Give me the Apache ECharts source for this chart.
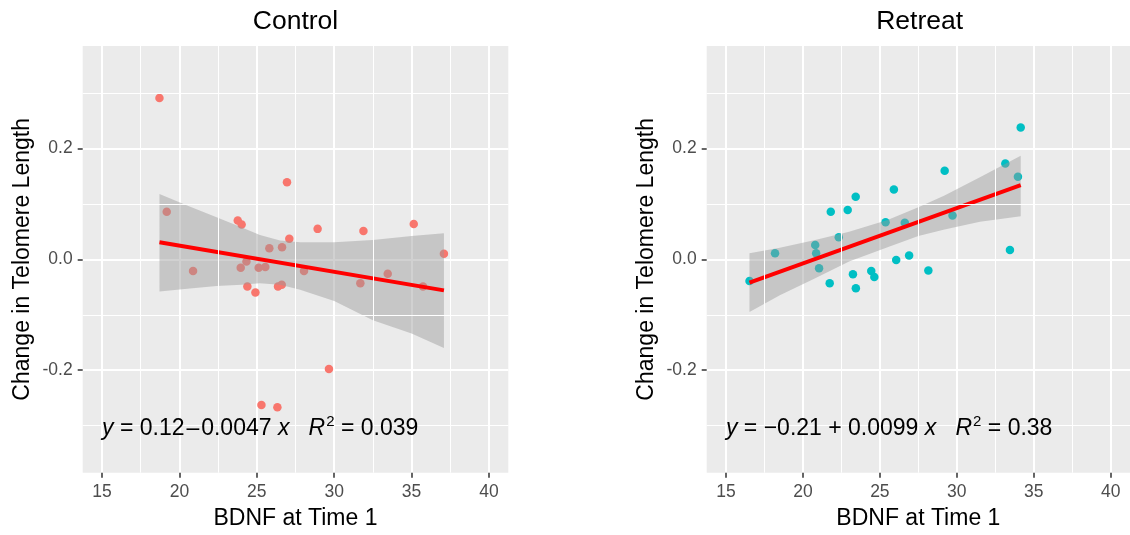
<!DOCTYPE html>
<html>
<head>
<meta charset="utf-8">
<script src="https://cdn.jsdelivr.net/npm/echarts@6/dist/echarts.min.js"></script>
<style>
  html, body { margin: 0; padding: 0; background: #fff; }
  #main { width: 1130px; height: 535px; }
</style>
</head>
<body>
<div id="main"></div>
<script>
// control group: BDNF at time 1 vs change in telomere length
const controlBdnf = [18.71, 19.18, 23.77, 24.02, 26.95, 27.10, 28.93, 31.89, 35.14, 25.81, 26.63, 37.09, 20.88, 23.96,
  24.33, 25.12, 25.55, 28.05, 33.46, 31.69, 35.74, 24.39, 24.91, 26.37, 26.61, 29.66, 25.30, 26.33];
const controlChange = [0.291, 0.086, 0.070, 0.063, 0.139, 0.037, 0.055, 0.051, 0.064, 0.020, 0.022, 0.010, -0.021, -0.015,
  -0.004, -0.015, -0.014, -0.021, -0.026, -0.043, -0.049, -0.049, -0.060, -0.049, -0.046, -0.198, -0.263, -0.267];

// retreat group
const retreatBdnf = [34.15, 33.15, 33.97, 29.21, 25.91, 23.43, 22.91, 21.81, 29.72, 25.37, 26.62, 22.33, 20.80, 18.19,
  20.86, 33.45, 26.06, 26.90, 21.05, 16.53, 21.74, 23.25, 24.44, 24.64, 28.15, 23.44];
const retreatChange = [0.238, 0.173, 0.149, 0.160, 0.126, 0.113, 0.089, 0.086, 0.079, 0.067, 0.066, 0.040, 0.026, 0.011,
  0.011, 0.017, -0.001, 0.007, -0.016, -0.039, -0.043, -0.027, -0.021, -0.032, -0.020, -0.052];

// fitted lines (end points) and confidence bands
const controlFitX = [18.71, 37.09];
const controlFitY = [0.031, -0.056];
const controlBandX = [18.71, 20.5, 22.4, 24.0, 25.2, 26.5, 27.8, 30.0, 32.5, 35.0, 37.09];
const controlBandHi = [0.118, 0.097, 0.076, 0.058, 0.044, 0.034, 0.031, 0.031, 0.035, 0.042, 0.047];
const controlBandLo = [-0.058, -0.053, -0.048, -0.046, -0.043, -0.046, -0.055, -0.075, -0.110, -0.134, -0.160];

const retreatFitX = [16.53, 34.15];
const retreatFitY = [-0.042, 0.134];
const retreatBandX = [16.53, 18.5, 20.8, 23.0, 25.5, 27.5, 29.2, 31.5, 34.15];
const retreatBandHi = [0.011, 0.021, 0.035, 0.050, 0.071, 0.094, 0.115, 0.148, 0.187];
const retreatBandLo = [-0.095, -0.065, -0.034, -0.004, 0.022, 0.042, 0.054, 0.068, 0.078];

// axes
const xTicks = [15, 20, 25, 30, 35, 40];
const xMinor = [17.5, 22.5, 27.5, 32.5, 37.5];
const yTicks = [-0.2, 0, 0.2];
const yMinor = [-0.3, -0.1, 0.1, 0.3];

// regression labels
const controlEq = '{i|y} = 0.12\u200a\u2013\u200a0.0047 {i|x}   {i|R}{s|2} = 0.039';
const retreatEq = '{i|y} = \u22120.21 + 0.0099 {i|x}   {i|R}{s|2} = 0.38';

const FONT = 'Liberation Sans, Arial, sans-serif';
const chart = echarts.init(document.getElementById('main'));

function xAxisFor(idx) {
  return {
    type: 'value', gridIndex: idx, min: 13.75, max: 41.25,
    name: 'BDNF at Time 1', nameLocation: 'middle', nameGap: 34,
    nameTextStyle: { fontFamily: FONT, fontSize: 23, color: '#000' },
    axisLine: { show: false, onZero: false },
    axisTick: { show: true, length: 5, customValues: xTicks, lineStyle: { color: '#333', width: 1.5 } },
    axisLabel: { customValues: xTicks, margin: 10, fontFamily: FONT, fontSize: 17.5, color: '#4d4d4d' },
    splitLine: { show: true, lineStyle: { color: '#fff', width: 2 } }
  };
}

function yAxisFor(idx) {
  return {
    type: 'value', gridIndex: idx, min: -0.385, max: 0.385,
    name: 'Change in Telomere Length', nameLocation: 'middle', nameGap: 49,
    nameTextStyle: { fontFamily: FONT, fontSize: 23, color: '#000' },
    axisLine: { show: false, onZero: false },
    axisTick: { show: true, length: 5, customValues: yTicks, lineStyle: { color: '#333', width: 1.5 } },
    axisLabel: { customValues: yTicks, margin: 10, fontFamily: FONT, fontSize: 17.5, color: '#4d4d4d',
      formatter: v => v.toFixed(1) },
    splitLine: { show: true, lineStyle: { color: '#fff', width: 2 } }
  };
}

function minorGrid(idx) {
  return {
    type: 'line', xAxisIndex: idx, yAxisIndex: idx, data: [], z: 1, silent: true,
    markLine: {
      silent: true, symbol: 'none', label: { show: false }, animation: false,
      lineStyle: { color: '#fff', width: 1, type: 'solid' },
      emphasis: { disabled: true },
      data: xMinor.map(v => ({ xAxis: v })).concat(yMinor.map(v => ({ yAxis: v })))
    }
  };
}

function points(idx, xs, ys, color, eq) {
  return {
    type: 'scatter', xAxisIndex: idx, yAxisIndex: idx, z: 2,
    symbolSize: 8.5, itemStyle: { color: color, opacity: 1 },
    data: xs.map((x, i) => [x, ys[i]]),
    markPoint: {
      symbol: 'circle', symbolSize: 0, silent: true, animation: false,
      data: [{ coord: [15, -0.305] }],
      label: {
        show: true, position: 'right', distance: 0,
        fontFamily: FONT, fontSize: 23, color: '#000',
        formatter: eq,
        rich: {
          i: { fontStyle: 'italic', fontFamily: FONT, fontSize: 23, color: '#000' },
          s: { fontFamily: FONT, fontSize: 15, color: '#000', padding: [0, 0, 13, 1] }
        }
      }
    }
  };
}

function band(idx, xs, hi, lo) {
  return {
    type: 'custom', xAxisIndex: idx, yAxisIndex: idx, z: 3, silent: true,
    data: [[xs[0], hi[0]]],
    renderItem: function (params, api) {
      const pts = [];
      for (let i = 0; i < xs.length; i++) pts.push(api.coord([xs[i], hi[i]]));
      for (let i = xs.length - 1; i >= 0; i--) pts.push(api.coord([xs[i], lo[i]]));
      return { type: 'polygon', shape: { points: pts }, style: { fill: 'rgba(153,153,153,0.45)' } };
    }
  };
}

function fit(idx, xs, ys) {
  return {
    type: 'line', xAxisIndex: idx, yAxisIndex: idx, z: 4, silent: true,
    symbol: 'none', lineStyle: { color: '#ff0000', width: 4 },
    data: xs.map((x, i) => [x, ys[i]])
  };
}

chart.setOption({
  animation: false,
  backgroundColor: '#fff',
  title: [
    { text: 'Control', left: 290.5, top: 3, textAlign: 'center',
      textStyle: { fontFamily: FONT, fontSize: 26.5, fontWeight: 'normal', color: '#000' } },
    { text: 'Retreat', left: 914.6, top: 3, textAlign: 'center',
      textStyle: { fontFamily: FONT, fontSize: 26.5, fontWeight: 'normal', color: '#000' } }
  ],
  grid: [
    { left: 82.7, top: 46, width: 425.6, height: 426.7, show: true, backgroundColor: '#ebebeb', borderWidth: 0 },
    { left: 706.7, top: 46, width: 425.9, height: 426.7, show: true, backgroundColor: '#ebebeb', borderWidth: 0 }
  ],
  xAxis: [xAxisFor(0), xAxisFor(1)],
  yAxis: [yAxisFor(0), yAxisFor(1)],
  series: [
    minorGrid(0),
    points(0, controlBdnf, controlChange, '#f8766d', controlEq),
    band(0, controlBandX, controlBandHi, controlBandLo),
    fit(0, controlFitX, controlFitY),
    minorGrid(1),
    points(1, retreatBdnf, retreatChange, '#00bfc4', retreatEq),
    band(1, retreatBandX, retreatBandHi, retreatBandLo),
    fit(1, retreatFitX, retreatFitY)
  ]
});
</script>
</body>
</html>
